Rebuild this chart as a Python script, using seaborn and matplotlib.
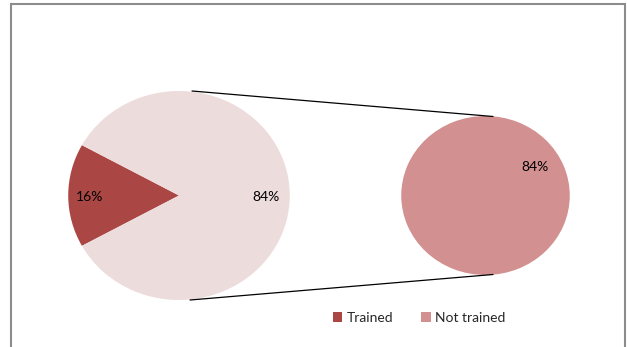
import numpy as np
import matplotlib
matplotlib.use("Agg")
import matplotlib.pyplot as plt
import seaborn as sns
from matplotlib.patches import Rectangle, Patch
from matplotlib.lines import Line2D

# ---- data ----
categories = ["Trained", "Not trained"]
main_values = [16, 84]
main_labels = ["16%", "84%"]
sub_values = [84]
sub_labels = ["84%"]
colors = ["#AA4744", "#D29190"]
main_colors = ["#AA4744", "#EDDCDC"]

sns.set_theme(style="white")
plt.rcParams["font.family"] = ["Lato", "DejaVu Sans"]

W, H = 627, 347
SX = 1.06  # slight horizontal stretch as in the reference
fig = plt.figure(figsize=(W / 100, H / 100), dpi=100)
ax = fig.add_axes([0, 0, 1, 1])

def px(x):
    return x / SX

# left pie
lc = (px(179), 195.5)
lr = 104.5
start = 180 - 360 * main_values[0] / sum(main_values) / 2
ax.pie(main_values, colors=main_colors, center=lc, radius=lr,
       startangle=start, counterclock=True, frame=True,
       wedgeprops=dict(linewidth=0))
for txt, (x, y) in zip(main_labels, [(90, 197), (266, 197)]):
    ax.text(px(x), y, txt, ha="center", va="center", fontsize=10, color="#000000")

# right pie
rc = (px(485.5), 195.5)
rr = 79.5
ax.pie(sub_values, colors=[colors[1]], center=rc, radius=rr, startangle=90,
       frame=True, wedgeprops=dict(linewidth=0))
ax.text(px(535), 167, sub_labels[0], ha="center", va="center", fontsize=10, color="#000000")

ax.set_aspect("auto")
ax.set_xlim(0, W / SX)
ax.set_ylim(H, 0)
ax.set_position([0, 0, 1, 1])
ax.axis("off")

# connector lines
ax.add_line(Line2D([px(192), px(493)], [91, 116.5], color="#000000", lw=0.9))
ax.add_line(Line2D([px(190), px(493)], [300, 274.5], color="#000000", lw=0.9))

# legend
handles = [Patch(facecolor=c, edgecolor="none") for c in colors]
fig.legend(handles, categories, loc="center", bbox_to_anchor=(419 / W, 1 - 318 / H),
           ncol=2, frameon=False, fontsize=10, handlelength=0.7, handleheight=0.7,
           handletextpad=0.3, columnspacing=2.0, borderpad=0)

# frame
fig.patches.append(Rectangle((10.5 / W, -0.05), (625 - 10.5) / W, 1.05 - 3.5 / H,
                             transform=fig.transFigure, fill=False,
                             edgecolor="#8C8C8C", lw=1.5))

fig.savefig("out.png", dpi=100)
